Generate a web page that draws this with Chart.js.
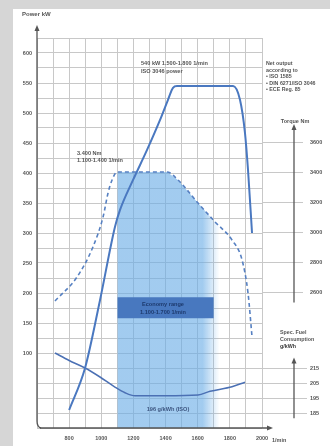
<!DOCTYPE html>
<html><head><meta charset="utf-8">
<script src="https://cdn.jsdelivr.net/npm/chart.js@4.4.1/dist/chart.umd.min.js"></script>
<style>
html,body{margin:0;padding:0;background:#d6d6d6;width:330px;height:446px;overflow:hidden;}
#panel{position:absolute;left:13px;top:9px;width:317px;height:437px;background:#fff;}
canvas{display:block;}
</style></head><body>
<div id="panel"><canvas id="c" width="317" height="437"></canvas></div>
<script>
// ---- data ----
const rpmPower   = [800, 899, 992, 1085, 1116, 1197, 1284, 1365, 1415, 1446, 1471, 1820, 1863, 1894, 1913, 1938];
const powerKW    = [5, 75, 188, 310, 338, 388, 438, 488, 522, 542, 545, 545, 522, 467, 405, 300];
const rpmTorque  = [712, 849, 948, 1011, 1042, 1067, 1098, 1409, 1477, 1602, 1708, 1813, 1876, 1913, 1938];
const torqueNm   = [2540, 2700, 2900, 3100, 3260, 3347, 3400, 3400, 3347, 3193, 3067, 2947, 2813, 2593, 2300];
const rpmFuel    = [712, 800, 899, 992, 1085, 1148, 1210, 1397, 1602, 1677, 1813, 1894];
const fuelGkWh   = [225, 220, 215, 209, 202.3, 198.5, 196.5, 196.5, 197, 199.5, 202.5, 205.5];
const rpmRange   = [1100, 1409, 1477, 1602, 1708, 1760];
const rangeNm    = [3400, 3400, 3347, 3193, 3067, 3010];
const rpmEco     = [1100, 1700];
const ecoTopKW   = [193, 193];
const ecoBotKW   = [158, 158];
const powerTicks  = [100,150,200,250,300,350,400,450,500,550,600];
const torqueTicks = [2600, 2800, 3000, 3200, 3400, 3600];
const fuelTicks   = [185, 195, 205, 215];
const rpmTicks    = [800, 1000, 1200, 1400, 1600, 1800, 2000];

const OX = 13, OY = 9;
const pts = (xs, ys) => xs.map((x, i) => ({x, y: ys[i]}));
const AX = '#555';
const LBL = '#555';
const FONT = '"Liberation Sans", Arial, sans-serif';

function txt(ctx, s, px, py, size, align, color, weight) {
  ctx.font = (weight || 'bold') + ' ' + size + 'px ' + FONT;
  ctx.fillStyle = color || LBL;
  ctx.textAlign = align || 'left';
  ctx.textBaseline = 'middle';
  ctx.fillText(s, px - OX, py - OY);
}
function arrowUp(ctx, x, y) {
  ctx.beginPath(); ctx.moveTo(x, y); ctx.lineTo(x - 2.5, y + 6); ctx.lineTo(x + 2.5, y + 6); ctx.closePath(); ctx.fill();
}
function arrowRight(ctx, x, y) {
  ctx.beginPath(); ctx.moveTo(x, y); ctx.lineTo(x - 6, y - 2.5); ctx.lineTo(x - 6, y + 2.5); ctx.closePath(); ctx.fill();
}
const noPad = sc => { sc.paddingTop = 0; sc.paddingBottom = 0; sc.paddingLeft = 0; sc.paddingRight = 0; };

const deco = {
  id: 'deco',
  afterDraw(chart) {
    const {ctx, chartArea: a, scales: s} = chart;
    ctx.save();
    ctx.strokeStyle = AX; ctx.fillStyle = AX; ctx.lineWidth = 1.3;
    // power axis with break at bottom
    ctx.beginPath();
    ctx.moveTo(a.left, a.top - 9);
    ctx.lineTo(a.left, a.bottom - 7);
    ctx.quadraticCurveTo(a.left, a.bottom - 1, a.left + 4, a.bottom);
    ctx.stroke();
    arrowUp(ctx, a.left, a.top - 13);
    // rpm axis
    ctx.beginPath(); ctx.moveTo(a.left + 3, a.bottom); ctx.lineTo(a.right + 6, a.bottom); ctx.stroke();
    arrowRight(ctx, a.right + 11, a.bottom);
    // torque & fuel axes
    const xr = 294 - OX;
    const yT = s.yT, yF = s.yF;
    ctx.strokeStyle = '#c8c8c8'; ctx.lineWidth = 1;
    torqueTicks.forEach(v => { const y = Math.round(yT.getPixelForValue(v)) + 0.5; ctx.beginPath(); ctx.moveTo(a.right, y); ctx.lineTo(xr + 9, y); ctx.stroke(); });
    fuelTicks.forEach(v => { const y = Math.round(yF.getPixelForValue(v)) + 0.5; ctx.beginPath(); ctx.moveTo(a.right, y); ctx.lineTo(xr + 13, y); ctx.stroke(); });
    ctx.strokeStyle = AX; ctx.lineWidth = 1.3;
    ctx.beginPath(); ctx.moveTo(xr, yT.getPixelForValue(2530)); ctx.lineTo(xr, yT.getPixelForValue(3690)); ctx.stroke();
    arrowUp(ctx, xr, yT.getPixelForValue(3720));
    ctx.beginPath(); ctx.moveTo(xr, yF.getPixelForValue(181.5)); ctx.lineTo(xr, yF.getPixelForValue(219)); ctx.stroke();
    arrowUp(ctx, xr, yF.getPixelForValue(222));
    // fuel tick labels
    fuelTicks.forEach(v => txt(ctx, String(v), 310, yF.getPixelForValue(v) + OY, 5.5, 'left'));
    // texts
    txt(ctx, 'Power kW', 22, 14, 6);
    txt(ctx, 'Torque Nm', 295, 121, 5.5, 'center');
    txt(ctx, 'Spec. Fuel', 280, 333, 5.3);
    txt(ctx, 'Consumption', 280, 340, 5.3);
    txt(ctx, 'g/kWh', 280, 347, 5.3, 'left', '#333');
    txt(ctx, '1/min', 272, 440, 5.5);
    txt(ctx, '540 kW 1.500-1.800 1/min', 141, 63, 5.6);
    txt(ctx, 'ISO 3046 power', 141, 71, 5.6);
    txt(ctx, '3.400 Nm', 77, 153, 5.6);
    txt(ctx, '1.100-1.400 1/min', 77, 160, 5.6);
    ['Net output', 'according to', '\u2022 ISO 1585', '\u2022 DIN 6271/ISO 3046', '\u2022 ECE Reg. 85']
      .forEach((t, i) => txt(ctx, t, 266, 64 + i * 6.5, 5.3));
    txt(ctx, 'Economy range', 163, 304, 5.6, 'center', '#1d3a6e');
    txt(ctx, '1.100-1.700 1/min', 163, 312, 5.6, 'center', '#1d3a6e');
    txt(ctx, '196 g/kWh (ISO)', 168, 409, 5.6, 'center', '#3d5680');
    ctx.restore();
  }
};

const shadeColor = (c) => {
  const ch = c.chart, a = ch.chartArea;
  if (!a) return 'rgba(105,172,230,0.62)';
  const x0 = ch.scales.x.getPixelForValue(1630), x1 = ch.scales.x.getPixelForValue(1735);
  const g = ch.ctx.createLinearGradient(x0, 0, x1, 0);
  g.addColorStop(0, 'rgba(105,172,230,0.62)');
  g.addColorStop(1, 'rgba(105,172,230,0)');
  return g;
};

new Chart(document.getElementById('c'), {
  type: 'line',
  data: {
    datasets: [
      {label: 'range', data: pts(rpmRange, rangeNm), yAxisID: 'yT', fill: 'start', borderWidth: 0, pointRadius: 0, backgroundColor: shadeColor, order: 6, tension: 0},
      {label: 'ecoTop', data: pts(rpmEco, ecoTopKW), yAxisID: 'yP', fill: false, borderWidth: 0, pointRadius: 0, order: 5},
      {label: 'ecoBot', data: pts(rpmEco, ecoBotKW), yAxisID: 'yP', fill: '-1', borderWidth: 0, pointRadius: 0, backgroundColor: '#4878bf', order: 4},
      {label: 'fuel', data: pts(rpmFuel, fuelGkWh), yAxisID: 'yF', borderColor: '#4b70b4', borderWidth: 1.5, pointRadius: 0, cubicInterpolationMode: 'monotone', order: 3},
      {label: 'torque', data: pts(rpmTorque, torqueNm), yAxisID: 'yT', borderColor: '#5680c2', borderWidth: 1.6, borderDash: [4, 3], pointRadius: 0, cubicInterpolationMode: 'monotone', order: 2},
      {label: 'power', data: pts(rpmPower, powerKW), yAxisID: 'yP', borderColor: '#4a78c0', borderWidth: 2, pointRadius: 0, cubicInterpolationMode: 'monotone', order: 1}
    ]
  },
  options: {
    responsive: false, animation: false, devicePixelRatio: 1,
    layout: {padding: {top: 29, left: 0, right: 0, bottom: 0}, autoPadding: false},
    plugins: {legend: {display: false}, tooltip: {enabled: false}},
    scales: {
      x: {
        type: 'linear', min: 600, max: 2000,
        afterFit: sc => { sc.height = 18; noPad(sc); },
        afterBuildTicks: sc => { const t = []; for (let v = 600; v <= 2000; v += 100) t.push({value: v}); sc.ticks = t; },
        ticks: {autoSkip: false, maxRotation: 0, padding: 7, color: LBL, font: {family: FONT, size: 5.5, weight: 'bold'},
          callback: v => rpmTicks.includes(v) ? String(v) : ''},
        grid: {color: '#c8c8c8', lineWidth: 1, drawTicks: false},
        border: {display: false}
      },
      yP: {
        position: 'left', min: -25, max: 625,
        afterFit: sc => { sc.width = 24; noPad(sc); },
        afterBuildTicks: sc => { const t = []; for (let v = -25; v <= 625; v += 25) t.push({value: v}); sc.ticks = t; },
        ticks: {padding: 5, color: LBL, font: {family: FONT, size: 5.5, weight: 'bold'},
          callback: v => powerTicks.includes(v) ? String(v) : ''},
        grid: {color: '#c8c8c8', lineWidth: 1, drawTicks: false},
        border: {display: false}
      },
      yT: {
        position: 'right', min: 1693.33, max: 4293.33,
        afterFit: sc => { sc.width = 68; noPad(sc); },
        afterBuildTicks: sc => { sc.ticks = torqueTicks.map(v => ({value: v})); },
        ticks: {padding: 48, color: LBL, font: {family: FONT, size: 5.5, weight: 'bold'}, callback: v => String(v)},
        grid: {display: false, drawTicks: false},
        border: {display: false}
      },
      yF: {
        position: 'right', display: false, min: 175, max: 435,
        afterFit: sc => { noPad(sc); }
      }
    }
  },
  plugins: [deco]
});
</script>
</body></html>
